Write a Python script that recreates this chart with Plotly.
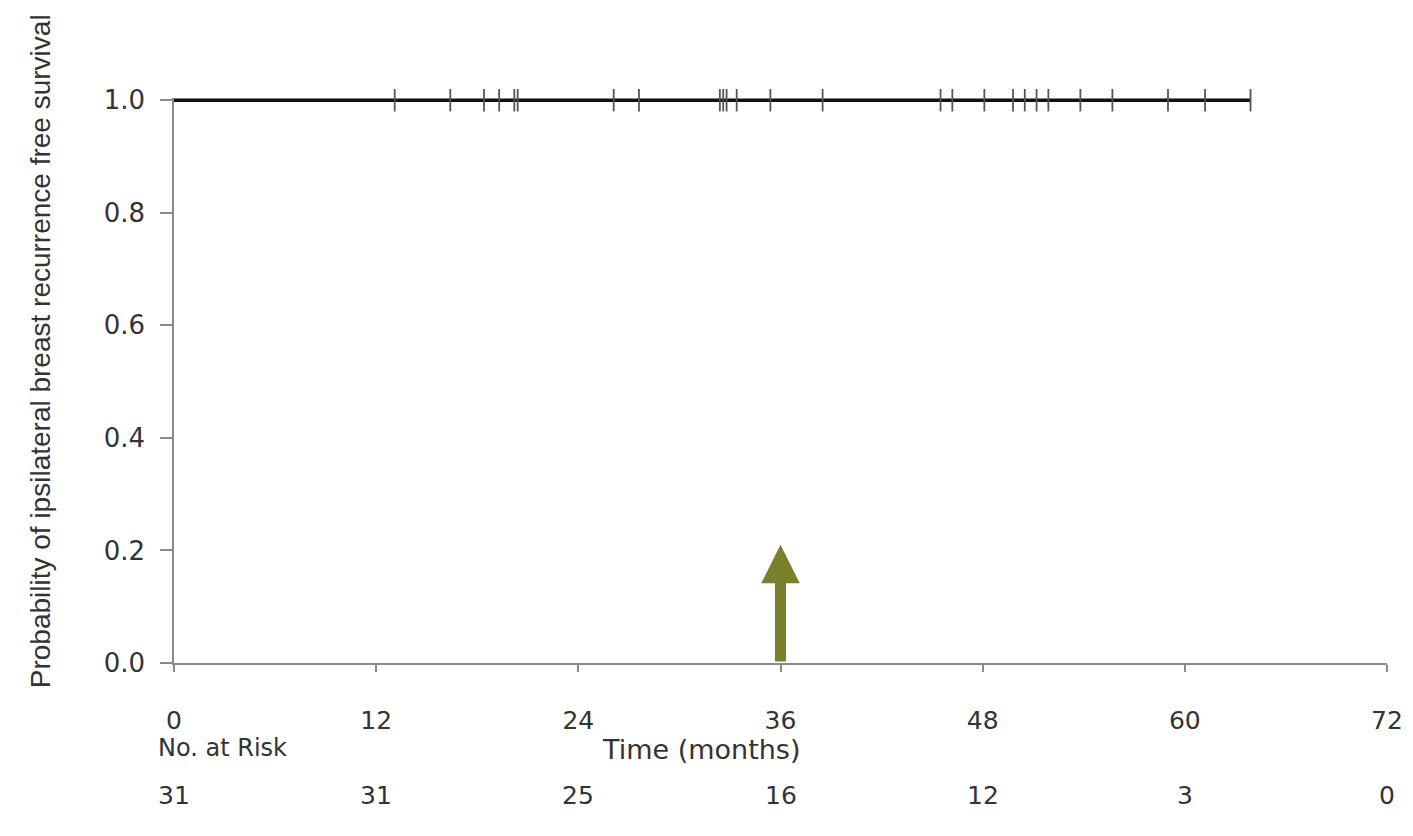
import plotly.graph_objects as go

# Kaplan-Meier: no events, survival stays at 1.0
curve_time = [0, 63.9]
curve_surv = [1.0, 1.0]

# censored observations (months)
censor_times = [13.1, 16.4, 18.4, 19.3, 20.2, 20.4, 26.1, 27.6, 32.4, 32.6, 32.8,
                33.4, 35.4, 38.5, 45.5, 46.2, 48.1, 49.8, 50.5, 51.2, 51.9, 53.8,
                55.7, 59.0, 61.2, 63.9]

x_ticks = [0, 12, 24, 36, 48, 60, 72]
y_ticks = [0.0, 0.2, 0.4, 0.6, 0.8, 1.0]
at_risk = [31, 31, 25, 16, 12, 3, 0]

arrow_x = 36
arrow_tip = 0.21
arrow_color = "#7a7f2c"

FONT = "DejaVu Sans"
TXT = "#333333"

fig = go.Figure()
fig.add_trace(go.Scatter(x=curve_time, y=curve_surv, mode="lines",
                         line=dict(color="#111111", width=3.5), showlegend=False))
fig.add_trace(go.Scatter(x=censor_times, y=[1.0] * len(censor_times), mode="markers",
                         marker=dict(symbol="line-ns", size=16,
                                     line=dict(color="#555555", width=1.8)),
                         showlegend=False, cliponaxis=False))

# arrow
fig.add_annotation(x=arrow_x, y=arrow_tip, ax=arrow_x, ay=0, xref="x", yref="y",
                   axref="x", ayref="y", showarrow=True, arrowhead=2, arrowsize=0.7,
                   arrowwidth=11, arrowcolor=arrow_color, text="", standoff=0)

# y-axis title as rotated annotation
fig.add_annotation(x=0, y=0.554, xref="paper", yref="y", xshift=-134,
                   text="Probability of ipsilateral breast recurrence free survival",
                   textangle=-90, showarrow=False,
                   font=dict(family="Liberation Sans", size=28, color=TXT),
                   xanchor="center", yanchor="middle")

# at-risk table
for t, n in zip(x_ticks, at_risk):
    fig.add_annotation(x=t, y=0, xref="x", yref="paper", yshift=-132, text=str(n),
                       showarrow=False, font=dict(family=FONT, size=25, color=TXT),
                       xanchor="center", yanchor="middle")
fig.add_annotation(x=0, y=0, xref="paper", yref="paper", xshift=-18, yshift=-85,
                   text="No. at Risk", showarrow=False,
                   font=dict(family=FONT, size=24, color=TXT), xanchor="left",
                   yanchor="middle")
fig.add_annotation(x=31.3, y=0, xref="x", yref="paper", yshift=-86,
                   text="Time (months)", showarrow=False,
                   font=dict(family=FONT, size=27, color=TXT), xanchor="center",
                   yanchor="middle")

fig.update_xaxes(range=[0, 72], tickvals=x_ticks, showgrid=False, zeroline=False,
                 showline=True, linecolor="#8a8a8a", linewidth=1.5,
                 ticks="outside", ticklen=7, tickcolor="#8a8a8a", tickwidth=1.5,
                 ticklabelstandoff=27,
                 tickfont=dict(family=FONT, size=25, color=TXT))
fig.update_yaxes(range=[0, 1.004], tickvals=y_ticks, tickformat=".1f", showgrid=False,
                 zeroline=False, showline=True, linecolor="#8a8a8a", linewidth=1.5,
                 ticks="outside", ticklen=12, tickcolor="#8a8a8a", tickwidth=1.5,
                 ticklabelstandoff=10,
                 tickfont=dict(family=FONT, size=26, color=TXT))

fig.update_layout(width=1413, height=836, plot_bgcolor="white", paper_bgcolor="white",
                  margin=dict(l=166, r=34, t=90, b=181))
fig.write_html("out.html")
